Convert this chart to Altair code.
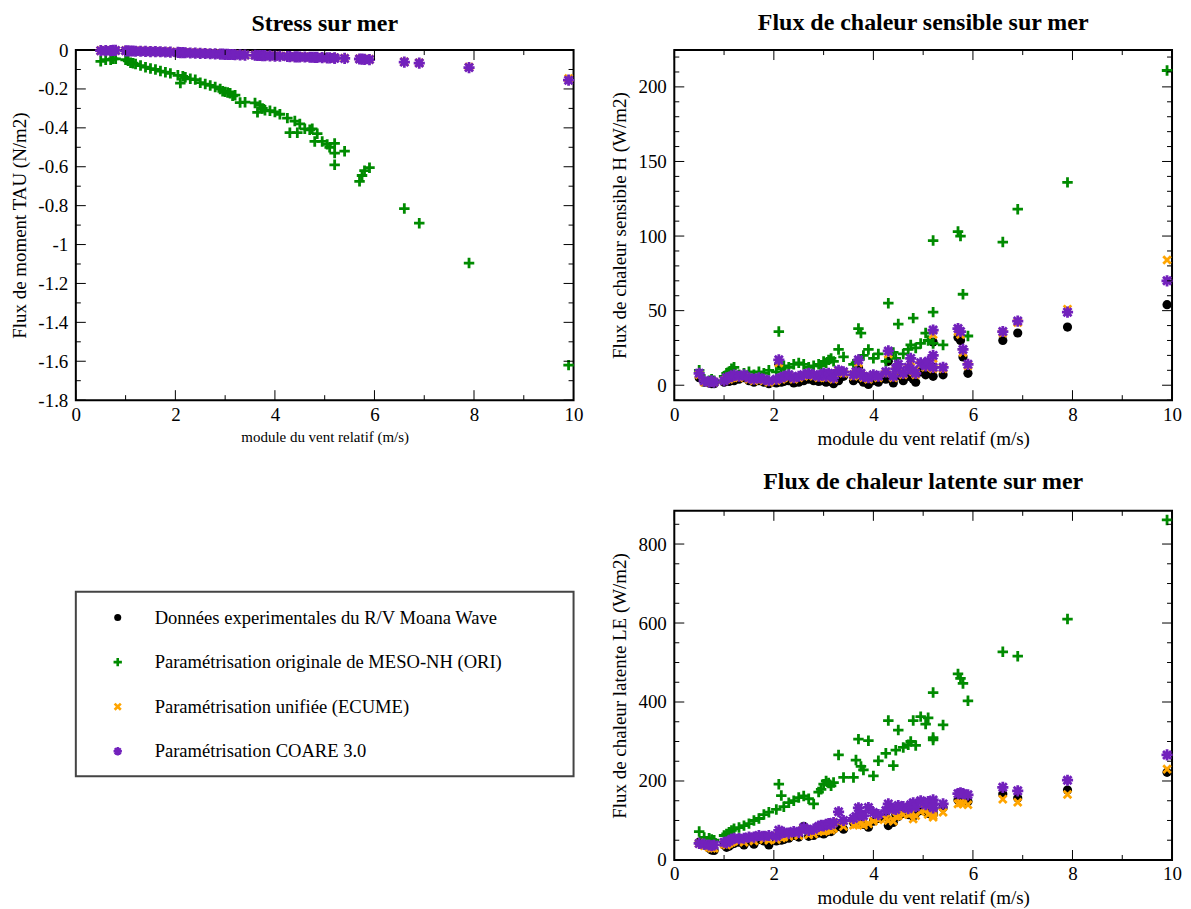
import altair as alt
import pandas as pd

FONT = "Liberation Serif"

# ---------------- data ----------------
WIND = [0.50, 0.60, 0.70, 0.75, 0.80, 1.00, 1.05, 1.10, 1.15, 1.20,
        1.30, 1.40, 1.50, 1.60, 1.70, 1.80, 1.90, 2.05, 2.10, 2.15,
        2.20, 2.30, 2.40, 2.50, 2.60, 2.70, 2.80, 2.90, 2.95, 3.00,
        3.05, 3.10, 3.15, 3.20, 3.30, 3.40, 3.60, 3.65, 3.70, 3.75,
        3.80, 3.90, 4.00, 4.10, 4.25, 4.30, 4.40, 4.45, 4.50, 4.60,
        4.70, 4.75, 4.80, 4.85, 4.95, 5.05, 5.10, 5.20, 5.20, 5.20,
        5.40, 5.70, 5.75, 5.80, 5.90, 6.60, 6.90, 7.90, 9.90]

TAU_ORI = [-0.058, -0.050, -0.050, -0.045, -0.045, -0.050, -0.055, -0.065, -0.068, -0.072,
           -0.080, -0.088, -0.095, -0.100, -0.108, -0.114, -0.120, -0.130, -0.170, -0.135,
           -0.140, -0.148, -0.152, -0.168, -0.175, -0.182, -0.190, -0.200, -0.212, -0.215,
           -0.218, -0.222, -0.235, -0.232, -0.270, -0.268, -0.272, -0.320, -0.285, -0.300,
           -0.310, -0.312, -0.318, -0.330, -0.350, -0.425, -0.365, -0.425, -0.380, -0.405,
           -0.410, -0.405, -0.470, -0.430, -0.470, -0.485, -0.500, -0.480, -0.530, -0.590,
           -0.520, -0.675, -0.645, -0.620, -0.605, -0.815, -0.890, -1.095, -1.620]
TAU_ECUME = [-0.003, -0.002, -0.002, -0.002, -0.002, -0.003, -0.004, -0.004, -0.005, -0.005,
             -0.006, -0.006, -0.007, -0.008, -0.008, -0.009, -0.010, -0.011, -0.012, -0.012,
             -0.013, -0.014, -0.015, -0.016, -0.017, -0.018, -0.019, -0.020, -0.020, -0.021,
             -0.021, -0.022, -0.022, -0.023, -0.024, -0.025, -0.026, -0.027, -0.027, -0.028,
             -0.028, -0.029, -0.030, -0.031, -0.032, -0.033, -0.034, -0.034, -0.035, -0.035,
             -0.036, -0.036, -0.037, -0.037, -0.038, -0.039, -0.039, -0.040, -0.040, -0.041,
             -0.042, -0.045, -0.046, -0.047, -0.048, -0.060, -0.065, -0.087, -0.146]
TAU_COARE = [-0.003, -0.003, -0.003, -0.002, -0.002, -0.004, -0.004, -0.005, -0.005, -0.006,
             -0.006, -0.007, -0.008, -0.008, -0.009, -0.010, -0.011, -0.012, -0.013, -0.013,
             -0.014, -0.015, -0.016, -0.017, -0.018, -0.019, -0.020, -0.021, -0.021, -0.022,
             -0.022, -0.023, -0.023, -0.024, -0.025, -0.026, -0.027, -0.028, -0.028, -0.029,
             -0.029, -0.030, -0.031, -0.032, -0.033, -0.034, -0.035, -0.035, -0.036, -0.036,
             -0.037, -0.037, -0.038, -0.038, -0.039, -0.040, -0.040, -0.041, -0.041, -0.042,
             -0.043, -0.046, -0.047, -0.048, -0.049, -0.062, -0.067, -0.090, -0.155]

H_OBS = [5, 2, 1.5, 1, 1, 2, 3, 2.5, 4, 3,
         4, 5, 3, 2, 3, 2, 1, 1.5, 14, 2,
         2.5, 3, 1.5, 2, 3, 4, 3, 2.5, 3, 4,
         2, 3.5, 2.5, 1, 3, 6, 3, 5, 12, 4,
         2, 0.5, 3, 2, 4, 16, 1.5, 6, 8, 3,
         6, 7, 4, 2, 9, 7, 10, 29, 12, 6,
         7, 32, 30, 19, 8, 30, 35, 39, 54]
H_ORI = [10, 4, 3, 4, 3, 6, 8, 9, 11, 12,
         7, 8, 9, 7, 9, 8, 10, 9, 36, 11,
         13, 12, 14, 15, 14, 12, 13, 14, 13, 16,
         15, 17, 18, 16, 24, 19, 14, 15, 38, 35,
         20, 24, 18, 21, 16, 55, 22, 18, 41, 21,
         24, 27, 45, 25, 28, 35, 30, 97, 49, 28,
         27, 103, 100, 61, 33, 96, 118, 136, 211]
H_ECUME = [7, 2, 2, 2, 2, 3, 4, 4, 5, 6,
           5, 6, 4, 3, 4, 3, 2, 3, 15, 4,
           5, 6, 4, 5, 6, 7, 6, 5, 6, 7,
           5, 7, 6, 4, 9, 8, 6, 8, 15, 7,
           5, 4, 6, 5, 8, 21, 5, 10, 12, 7,
           11, 16, 9, 7, 14, 12, 15, 34, 18, 11,
           11, 36, 34, 22, 13, 35, 42, 51, 84]
H_COARE = [8, 3, 2, 3, 2, 3, 5, 5, 6, 7,
           6, 7, 5, 4, 5, 4, 3, 4, 17, 5,
           6, 7, 5, 6, 7, 8, 7, 6, 7, 8,
           6, 8, 7, 5, 10, 9, 7, 9, 17, 8,
           6, 5, 7, 6, 9, 23, 6, 11, 14, 8,
           12, 18, 10, 8, 15, 13, 16, 37, 20, 12,
           12, 38, 36, 24, 14, 36, 43, 49, 70]

LE_OBS = [45, 38, 30, 25, 24, 38, 32, 35, 40, 42,
          45, 38, 48, 40, 52, 48, 38, 48, 55, 50,
          52, 55, 62, 58, 85, 60, 62, 68, 70, 66,
          70, 75, 72, 78, 85, 78, 95, 92, 100, 95,
          90, 83, 98, 105, 110, 87, 95, 115, 110, 118,
          115, 120, 110, 118, 125, 128, 118, 120, 130, 115,
          132, 152, 155, 150, 148, 167, 157, 177, 222]
LE_ORI = [72, 57, 55, 52, 50, 62, 66, 70, 75, 79,
          82, 87, 92, 100, 105, 115, 121, 128, 192, 163,
          135, 145, 150, 158, 162, 155, 142, 172, 179, 192,
          200, 195, 188, 196, 266, 209, 209, 253, 306, 237,
          228, 302, 213, 251, 270, 353, 239, 278, 329, 285,
          292, 300, 353, 290, 363, 344, 360, 424, 304, 310,
          342, 471, 460, 447, 403, 527, 516, 610, 861]
LE_ECUME = [42, 36, 32, 30, 30, 40, 38, 42, 45, 48,
            48, 45, 52, 48, 56, 52, 50, 52, 62, 56,
            58, 60, 64, 62, 78, 64, 66, 72, 74, 72,
            75, 78, 76, 80, 95, 85, 88, 90, 98, 92,
            88, 92, 98, 102, 105, 100, 98, 110, 112, 115,
            115, 118, 104, 112, 122, 128, 115, 108, 118, 112,
            121, 142, 145, 142, 140, 154, 146, 166, 230]
LE_COARE = [42, 40, 38, 36, 38, 45, 44, 48, 52, 55,
            54, 55, 58, 58, 62, 60, 62, 60, 75, 68,
            70, 68, 72, 70, 82, 75, 78, 85, 88, 86,
            90, 92, 90, 95, 122, 100, 105, 110, 132, 115,
            112, 133, 120, 115, 125, 142, 130, 128, 138, 135,
            130, 140, 145, 135, 150, 140, 148, 152, 140, 132,
            142, 168, 170, 168, 165, 184, 175, 202, 266]

SERIES = ["obs", "ori", "ecume", "coare"]
LEGEND_LABELS = ["Données experimentales du R/V Moana Wave",
                 "Paramétrisation originale de MESO-NH (ORI)",
                 "Paramétrisation unifiée (ECUME)",
                 "Paramétrisation COARE 3.0"]

X_MAJOR = [0, 2, 4, 6, 8, 10]
X_MINOR = [1, 3, 5, 7, 9]
TAU_MAJOR = [0, -0.2, -0.4, -0.6, -0.8, -1, -1.2, -1.4, -1.6, -1.8]
TAU_MINOR = [-0.1, -0.3, -0.5, -0.7, -0.9, -1.1, -1.3, -1.5, -1.7]
H_MAJOR = [0, 50, 100, 150, 200]
H_MINOR = [-10, 10, 20, 30, 40, 60, 70, 80, 90, 110, 120, 130, 140, 160, 170, 180, 190, 210, 220]
LE_MAJOR = [0, 200, 400, 600, 800]
LE_MINOR = [50, 100, 150, 250, 300, 350, 450, 500, 550, 650, 700, 750, 850]

# ---------------- styles ----------------
GREEN = "#008B00"
ORANGE = "#FFA500"
PURPLE = "#7221BC"
PLUS = "M-1,0H1M0,-1V1"
XMARK = "M-0.8,-0.8L0.8,0.8M-0.8,0.8L0.8,-0.8"
STAR = "M-1,0H1M0,-1V1M-0.72,-0.72L0.72,0.72M-0.72,0.72L0.72,-0.72"

STYLE = {
    "obs": dict(shape="circle", filled=True, size=85, color="black"),
    "ori": dict(shape=PLUS, filled=False, size=110, strokeWidth=2.8, color=GREEN),
    "ecume": dict(shape=XMARK, filled=False, size=90, strokeWidth=2.8, color=ORANGE),
    "coare": dict(shape=STAR, filled=False, size=125, strokeWidth=2.8, color=PURPLE),
}
LEGEND_STYLE = {
    "obs": dict(shape="circle", filled=True, size=50, color="black"),
    "ori": dict(shape=PLUS, filled=False, size=70, strokeWidth=2.6, color=GREEN),
    "ecume": dict(shape=XMARK, filled=False, size=60, strokeWidth=2.6, color=ORANGE),
    "coare": dict(shape=STAR, filled=False, size=70, strokeWidth=2.4, color=PURPLE),
}

W = 499
XTITLE = "module du vent relatif (m/s)"
MAJ, MIN = 10, 5


def make_axis(values, title, orient, title_size):
    return alt.Axis(values=values, title=title, labelExpr="'' + datum.value",
                    ticks=False, domain=False, grid=False, labelFlush=False,
                    labelFont=FONT, labelFontSize=19, labelColor="black",
                    labelPadding=5 if orient == "x" else 8,
                    titleFont=FONT, titleFontSize=title_size, titleFontWeight="normal",
                    titleColor="black", titlePadding=5 if orient == "x" else 8,
                    labelOverlap=False)


def panel(title, ytitle, data, ydomain, ymajor, yminor, height, xtitle_size, toffset):
    xs = alt.Scale(domain=[0, 10], nice=False, zero=False)
    ys = alt.Scale(domain=ydomain, nice=False, zero=False)
    xaxis = make_axis(X_MAJOR, XTITLE, "x", xtitle_size)
    yaxis = make_axis(ymajor, ytitle, "y", 19)
    layers = []
    for key in SERIES:
        if key not in data:
            continue
        df = pd.DataFrame({"x": WIND, "v": data[key]})
        layers.append(
            alt.Chart(df).mark_point(opacity=1, **STYLE[key]).encode(
                x=alt.X("x:Q", scale=xs, axis=xaxis),
                y=alt.Y("v:Q", scale=ys, axis=yaxis),
            )
        )
    # inward ticks on all four sides
    for vals, ln in ((ymajor, MAJ), (yminor, MIN)):
        tdf = pd.DataFrame({"v": vals})
        for x1, x2 in ((0, ln), (W, W - ln)):
            layers.append(
                alt.Chart(tdf).mark_rule(color="black", strokeWidth=1).encode(
                    y=alt.Y("v:Q", scale=ys, axis=yaxis),
                    x=alt.value(x1), x2=alt.value(x2),
                )
            )
    for vals, ln in ((X_MAJOR, MAJ), (X_MINOR, MIN)):
        tdf = pd.DataFrame({"x": vals})
        for y1, y2 in ((0, ln), (height, height - ln)):
            layers.append(
                alt.Chart(tdf).mark_rule(color="black", strokeWidth=1).encode(
                    x=alt.X("x:Q", scale=xs, axis=xaxis),
                    y=alt.value(y1), y2=alt.value(y2),
                )
            )
    return alt.layer(*layers).properties(
        width=W, height=height,
        title=alt.TitleParams(text=title, font=FONT, fontSize=24, fontWeight="bold",
                              color="black", anchor="middle", frame="group",
                              offset=toffset),
    )


p1 = panel("Stress sur mer", "Flux de moment TAU (N/m2)",
           {"ori": TAU_ORI, "ecume": TAU_ECUME, "coare": TAU_COARE},
           [-1.8, 0], TAU_MAJOR, TAU_MINOR, 351, 15, 3)
p2 = panel("Flux de chaleur sensible sur mer", "Flux de chaleur sensible H (W/m2)",
           {"obs": H_OBS, "ori": H_ORI, "ecume": H_ECUME, "coare": H_COARE},
           [-10, 224.7], H_MAJOR, H_MINOR, 351, 19, 15)
p3 = panel("Flux de chaleur latente sur mer", "Flux de chaleur latente LE (W/m2)",
           {"obs": LE_OBS, "ori": LE_ORI, "ecume": LE_ECUME, "coare": LE_COARE},
           [0, 884], LE_MAJOR, LE_MINOR, 350, 19, 15)

# ---------------- legend box (cell beside the latent-heat panel) ----------------
LEG_H = 350
BOX_TOP, BOX_BOTTOM = 81, 266
leg_df = pd.DataFrame({"label": LEGEND_LABELS, "key": SERIES})
ly = alt.Y("label:N", axis=None,
           scale=alt.Scale(domain=LEGEND_LABELS, padding=0,
                           range=[BOX_TOP + 26, BOX_BOTTOM - 25]))
leg_layers = [
    alt.Chart(leg_df).mark_rect(fill="white", stroke="#444444", strokeWidth=2).encode(
        x=alt.value(0), x2=alt.value(W), y=alt.value(BOX_TOP), y2=alt.value(BOX_BOTTOM)
    ).transform_filter(alt.datum.key == "obs")
]
for key in SERIES:
    leg_layers.append(
        alt.Chart(leg_df).transform_filter(alt.datum.key == key)
        .mark_point(opacity=1, **LEGEND_STYLE[key])
        .encode(x=alt.value(42), y=ly)
    )
leg_layers.append(
    alt.Chart(leg_df).mark_text(align="left", baseline="middle", font=FONT,
                                fontSize=18.6, color="black")
    .encode(x=alt.value(79), y=ly, text="label:N")
)
legend = alt.layer(*leg_layers).properties(
    width=W, height=LEG_H,
    view=alt.ViewBackground(stroke=None, strokeWidth=0),
)

chart = (
    alt.concat(p1, p2, legend, p3, columns=2, bounds="flush",
               spacing={"row": 111, "column": 101})
    .properties(padding={"left": 1, "top": 0, "right": 0, "bottom": 0},
                background="white")
    .configure_view(stroke="black", strokeWidth=2)
)

chart.save("out.html", embed_options={"renderer": "svg", "actions": False})
